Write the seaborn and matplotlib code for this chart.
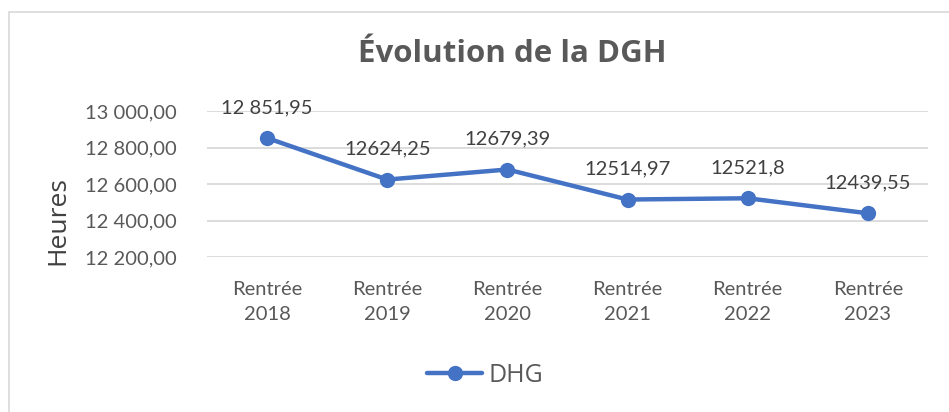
import matplotlib
matplotlib.use("Agg")
import matplotlib.pyplot as plt
import seaborn as sns
import pandas as pd
from matplotlib.patches import Rectangle
from matplotlib.ticker import FuncFormatter

categories = ["Rentrée\n2018", "Rentrée\n2019", "Rentrée\n2020", "Rentrée\n2021", "Rentrée\n2022", "Rentrée\n2023"]
values = [12851.95, 12624.25, 12679.39, 12514.97, 12521.8, 12439.55]
value_labels = ["12 851,95", "12624,25", "12679,39", "12514,97", "12521,8", "12439,55"]
series_name = "DHG"
title = "Évolution de la DGH"
ylabel = "Heures"

sns.set_theme(style="white")
plt.rcParams['font.family'] = ['Lato', 'DejaVu Sans']

df = pd.DataFrame({"cat": categories, "val": values, "serie": series_name})

fig = plt.figure(figsize=(9.49, 4.12), dpi=100)
ax = fig.add_axes([207/949, 1-257/412, (928-207)/949, (257-111)/412])

blue = "#4472C4"
txt = "#595959"
sns.lineplot(data=df, x="cat", y="val", hue="serie", palette=[blue], marker="o",
             markersize=11, linewidth=3.2, markeredgewidth=0, ax=ax, sort=False)

ax.set_ylim(12200, 13000)
ax.set_xlim(-0.5, len(categories) - 0.5)
ax.set_yticks([12200, 12400, 12600, 12800, 13000])
ax.yaxis.set_major_formatter(FuncFormatter(lambda v, p: f"{v:,.2f}".replace(",", " ").replace(".", ",")))
ax.grid(axis="y", color="#D9D9D9", linewidth=1.3)
ax.set_axisbelow(True)
for s in ax.spines.values():
    s.set_visible(False)
ax.tick_params(axis="both", length=0, labelsize=14.5, labelcolor=txt)
ax.tick_params(axis="y", pad=22)
ax.tick_params(axis="x", pad=17)
for t in ax.get_xticklabels():
    t.set_linespacing(1.6)
ax.set_xlabel("")
ax.set_ylabel("")

fig.text(58/949, 1-221/412, ylabel, rotation=90, ha="center", va="center",
         fontsize=19, color="#404040", family=["Open Sans", "DejaVu Sans"])

for i, (v, lab) in enumerate(zip(values, value_labels)):
    ax.annotate(lab, (i, v), xytext=(0, 22), textcoords="offset points",
                ha="center", va="center", fontsize=14.5, color="#404040")

leg = ax.legend(loc="center", bbox_to_anchor=(485/949, 1-375/412), bbox_transform=fig.transFigure,
                frameon=False, prop={"family": ["Open Sans", "DejaVu Sans"], "size": 18},
                handlelength=2.2, handletextpad=0.25, borderpad=0)
for t in leg.get_texts():
    t.set_color(txt)

fig.text(512/949, 1-54/412, title, ha="center", va="center", fontsize=22.5,
         fontweight="bold", color=txt, family=["Open Sans", "DejaVu Sans"])

fig.patches.append(Rectangle((9/949, -0.1), 1.2, 1 - 12/412 + 0.1, transform=fig.transFigure,
                             fill=False, edgecolor="#D9D9D9", linewidth=1.2))

fig.savefig("out.png", dpi=100)
